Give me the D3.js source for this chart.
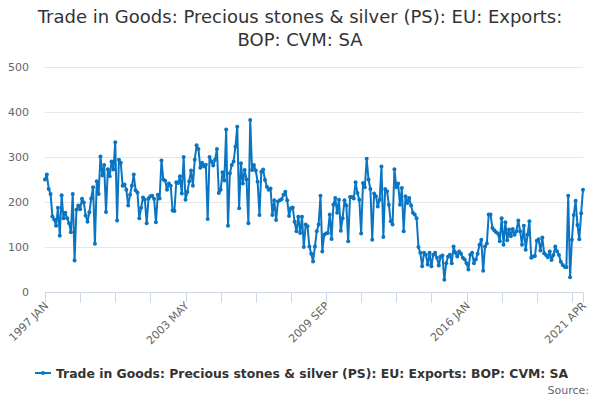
<!DOCTYPE html>
<html>
<head>
<meta charset="utf-8">
<script src="https://cdn.jsdelivr.net/npm/d3@7"></script>
<style>
  body { margin: 0; background: #fff; }
  svg { display: block; font-family: "DejaVu Sans", sans-serif; }
</style>
</head>
<body>
<svg id="chart" width="600" height="400"></svg>
<script>
const seriesName = "Trade in Goods: Precious stones & silver (PS): EU: Exports: BOP: CVM: SA";
const titleLines = ["Trade in Goods: Precious stones & silver (PS): EU: Exports:", "BOP: CVM: SA"];

// monthly values, 1997 JAN .. 2021 APR
const exportsValues = [
  250, 261, 229, 218, 168, 161, 147, 187, 125, 215, 164, 176,
  164, 153, 133, 218, 70, 183, 192, 184, 207, 199, 170, 156,
  177, 208, 233, 107, 246, 218, 301, 259, 282, 178, 273, 257,
  290, 272, 333, 159, 294, 287, 236, 239, 227, 192, 216, 236,
  261, 226, 221, 164, 187, 210, 205, 153, 208, 213, 214, 207,
  155, 216, 208, 292, 250, 247, 227, 241, 236, 181, 180, 244,
  242, 257, 219, 300, 205, 222, 246, 270, 236, 294, 326, 318,
  276, 287, 279, 283, 162, 300, 290, 281, 294, 318, 220, 227,
  266, 248, 361, 147, 264, 282, 290, 323, 367, 186, 286, 241,
  271, 250, 153, 382, 271, 282, 270, 245, 171, 267, 272, 249,
  234, 227, 230, 171, 204, 160, 201, 204, 206, 216, 223, 204,
  169, 186, 188, 156, 135, 167, 131, 167, 100, 150, 146, 101,
  85, 68, 101, 135, 150, 214, 90, 127, 130, 131, 172, 118,
  194, 209, 176, 205, 136, 164, 204, 192, 113, 211, 211, 208,
  244, 220, 205, 130, 242, 233, 296, 250, 229, 116, 219, 213,
  190, 205, 279, 122, 229, 224, 194, 157, 150, 273, 233, 241,
  194, 231, 135, 213, 198, 209, 192, 176, 172, 164, 100, 87,
  57, 87, 83, 61, 87, 57, 83, 87, 76, 59, 79, 81,
  27, 64, 79, 83, 64, 101, 87, 79, 90, 85, 76, 72,
  64, 50, 83, 87, 64, 72, 85, 105, 116, 47, 101, 108,
  172, 172, 142, 137, 133, 130, 113, 164, 105, 155, 115, 139,
  124, 140, 127, 135, 159, 135, 105, 147, 94, 127, 157, 76,
  79, 80, 114, 117, 92, 121, 86, 82, 77, 90, 71, 82,
  101, 90, 82, 67, 60, 56, 55, 214, 33, 116, 171, 203,
  149, 117, 175, 227
];

const monthNames = ["JAN", "FEB", "MAR", "APR", "MAY", "JUN", "JUL", "AUG", "SEP", "OCT", "NOV", "DEC"];
const months = exportsValues.map((d, i) => `${1997 + Math.floor(i / 12)} ${monthNames[i % 12]}`);
const tickLabels = ["1997 JAN", "2003 MAY", "2009 SEP", "2016 JAN", "2021 APR"];
const yTicks = [0, 100, 200, 300, 400, 500];

const width = 600;
const height = 400;
const margin = { top: 67, right: 17, bottom: 108, left: 45 };
const tickEvery = 19;

const svg = d3.select("#chart");

const x = d3.scaleLinear()
  .domain([0, exportsValues.length - 1])
  .range([margin.left, width - margin.right]);

const y = d3.scaleLinear()
  .domain([0, 500])
  .range([height - margin.bottom, margin.top]);

// title
svg.append("text")
  .attr("x", width / 2)
  .attr("y", 23)
  .attr("text-anchor", "middle")
  .attr("fill", "#333")
  .style("font-size", "18px")
  .selectAll("tspan")
  .data(titleLines)
  .join("tspan")
  .attr("x", width / 2)
  .attr("dy", (d, i) => i === 0 ? 0 : 23)
  .text(d => d);

// grid + y labels
const grid = svg.append("g");
grid.selectAll("line")
  .data(yTicks.filter(d => d > 0))
  .join("line")
  .attr("x1", margin.left)
  .attr("x2", width - margin.right)
  .attr("y1", d => y(d) + 0.5)
  .attr("y2", d => y(d) + 0.5)
  .attr("stroke", "#e6e6e6");

grid.selectAll("text")
  .data(yTicks)
  .join("text")
  .attr("x", margin.left - 16)
  .attr("y", d => y(d) + 4)
  .attr("text-anchor", "end")
  .attr("fill", "#666")
  .style("font-size", "11px")
  .text(d => d);

// x axis
const tickIdx = d3.range(0, exportsValues.length, tickEvery).concat([exportsValues.length - 1]);
const xAxis = svg.append("g")
  .attr("transform", `translate(0,${y(0) + 0.5})`);

xAxis.append("line")
  .attr("x1", margin.left)
  .attr("x2", width - margin.right)
  .attr("stroke", "#ccd6eb");

xAxis.selectAll(".tick")
  .data(tickIdx)
  .join("line")
  .attr("class", "tick")
  .attr("x1", d => Math.round(x(d)) + 0.5)
  .attr("x2", d => Math.round(x(d)) + 0.5)
  .attr("y1", 0)
  .attr("y2", 10)
  .attr("stroke", "#ccd6eb");

xAxis.selectAll(".lbl")
  .data(tickLabels)
  .join("text")
  .attr("class", "lbl")
  .attr("transform", d => `translate(${x(months.indexOf(d)) + 4},${14}) rotate(-45)`)
  .attr("text-anchor", "end")
  .attr("fill", "#666")
  .style("font-size", "11px")
  .text(d => d);

// series
const color = "#0a75c2";
const line = d3.line()
  .x((d, i) => x(i))
  .y(d => y(d));

svg.append("path")
  .datum(exportsValues)
  .attr("fill", "none")
  .attr("stroke", color)
  .attr("stroke-width", 2)
  .attr("stroke-linejoin", "round")
  .attr("d", line);

svg.append("g")
  .selectAll("circle")
  .data(exportsValues)
  .join("circle")
  .attr("cx", (d, i) => x(i))
  .attr("cy", d => y(d))
  .attr("r", 2)
  .attr("fill", color);

// legend
const legend = svg.append("g").attr("transform", "translate(35,373)");
legend.append("line")
  .attr("x1", 0).attr("x2", 16)
  .attr("stroke", color).attr("stroke-width", 2);
legend.append("circle")
  .attr("cx", 8).attr("r", 2).attr("fill", color);
legend.append("text")
  .attr("x", 21)
  .attr("y", 4.5)
  .attr("fill", "#333")
  .style("font-size", "12.4px")
  .style("font-weight", "bold")
  .text(seriesName);

svg.append("text")
  .attr("x", width - 11)
  .attr("y", 394)
  .attr("text-anchor", "end")
  .attr("fill", "#666")
  .style("font-size", "11px")
  .text("Source:");
</script>
</body>
</html>
